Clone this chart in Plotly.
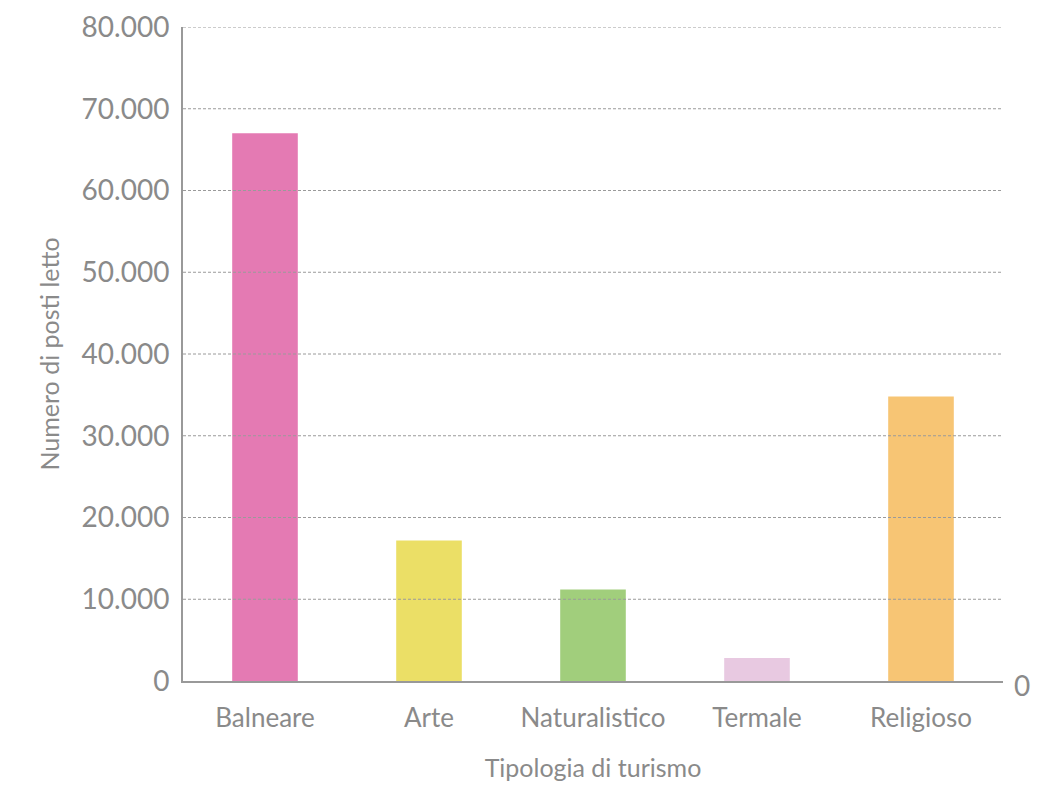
import plotly.graph_objects as go

categories = ["Balneare", "Arte", "Naturalistico", "Termale", "Religioso"]
values = [67000, 17200, 11200, 2800, 34800]
colors = ["#E47AB3", "#EBDF66", "#A1CE7C", "#E8C9E1", "#F7C574"]
y_ticks = [0, 10000, 20000, 30000, 40000, 50000, 60000, 70000, 80000]
y_tick_labels = ["0", "10.000", "20.000", "30.000", "40.000", "50.000", "60.000", "70.000", "80.000"]

grey = "#8a8a8a"
font_family = "Lato, Open Sans, sans-serif"

fig = go.Figure()
fig.add_trace(go.Bar(x=categories, y=values, marker=dict(color=colors, line=dict(width=0)),
                     showlegend=False, hoverinfo="skip"))
# invisible trace for the right-hand axis
fig.add_trace(go.Scatter(x=[categories[0]], y=[0], yaxis="y2", mode="markers",
                         marker=dict(opacity=0), showlegend=False, hoverinfo="skip"))

shapes = []
for t in y_ticks[1:]:
    shapes.append(dict(type="line", xref="paper", x0=0, x1=1, yref="y", y0=t, y1=t,
                       line=dict(color="#9a9a9a", width=1, dash="3px,2px"), layer="above"))

fig.update_layout(
    width=1061, height=787,
    margin=dict(l=175, r=66, t=19, b=114),
    paper_bgcolor="white", plot_bgcolor="white",
    bargap=0.6,
    separators=",.",
    font=dict(family=font_family, color=grey),
    shapes=shapes,
    xaxis=dict(
        automargin=False,
        showline=True, linecolor="#999999", linewidth=2,
        ticks="", tickfont=dict(size=26, color=grey), ticklabelstandoff=13,
        ticklabeloverflow="allow",
        title=dict(text="Tipologia di turismo", font=dict(size=25, color=grey), standoff=27),
        showgrid=False, zeroline=False,
    ),
    yaxis=dict(
        automargin=False,
        range=[0, 80000], tickvals=y_ticks, ticktext=y_tick_labels,
        showline=True, linecolor="#999999", linewidth=2,
        ticks="", tickfont=dict(size=28, color=grey), ticklabelstandoff=6,
        ticklabeloverflow="allow",
        title=dict(text="Numero di posti letto", font=dict(size=25, color=grey), standoff=15),
        showgrid=False, zeroline=False,
    ),
    yaxis2=dict(
        automargin=False,
        overlaying="y", side="right", range=[0, 80000],
        tickvals=[0], ticktext=["0"], tickfont=dict(size=28, color=grey),
        ticklabeloverflow="allow", ticklabelshift=5,
        showline=False, showgrid=False, zeroline=False, ticks="", ticklabelstandoff=10,
    ),
)

fig.write_html("out.html")
